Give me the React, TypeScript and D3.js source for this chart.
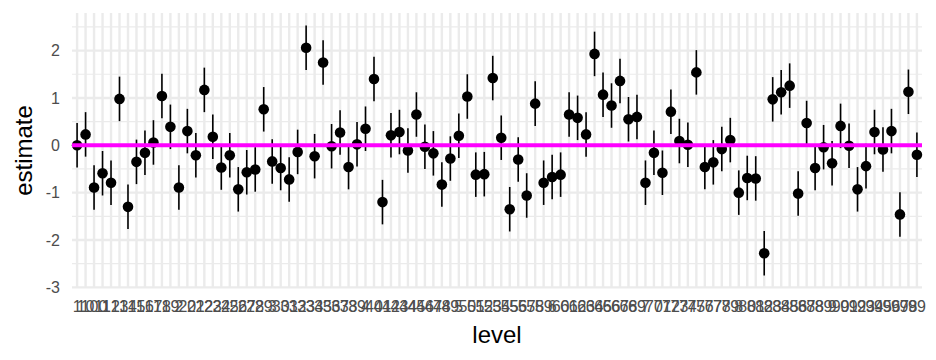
import React from 'react';
import * as d3 from 'd3';

// factor levels, sorted as strings (that is how the x axis lists them)
const levels = [
  '1', '10', '100', '11', '12', '13', '14', '15', '16', '17', '18', '19',
  '2', '20', '21', '22', '23', '24', '25', '26', '27', '28', '29',
  '3', '30', '31', '32', '33', '34', '35', '36', '37', '38', '39',
  '4', '40', '41', '42', '43', '44', '45', '46', '47', '48', '49',
  '5', '50', '51', '52', '53', '54', '55', '56', '57', '58', '59',
  '6', '60', '61', '62', '63', '64', '65', '66', '67', '68', '69',
  '7', '70', '71', '72', '73', '74', '75', '76', '77', '78', '79',
  '8', '80', '81', '82', '83', '84', '85', '86', '87', '88', '89',
  '9', '90', '91', '92', '93', '94', '95', '96', '97', '98', '99',
];

const estimates = [
  0.0, 0.23, -0.89, -0.59, -0.79, 0.98, -1.3, -0.35, -0.16, 0.06,
  1.04, 0.39, -0.89, 0.3, -0.21, 1.17, 0.18, -0.47, -0.21, -0.93,
  -0.57, -0.51, 0.76, -0.34, -0.48, -0.72, -0.14, 2.06, -0.23, 1.75,
  -0.02, 0.27, -0.46, 0.02, 0.35, 1.4, -1.2, 0.21, 0.28, -0.11,
  0.65, -0.03, -0.17, -0.83, -0.28, 0.2, 1.03, -0.62, -0.61, 1.42,
  0.16, -1.35, -0.3, -1.06, 0.88, -0.79, -0.67, -0.62, 0.65, 0.58,
  0.23, 1.93, 1.07, 0.84, 1.36, 0.55, 0.6, -0.79, -0.16, -0.58,
  0.71, 0.09, 0.01, 1.54, -0.46, -0.36, -0.08, 0.11, -1.0, -0.69,
  -0.7, -2.28, 0.97, 1.12, 1.26, -1.02, 0.47, -0.48, -0.04, -0.38,
  0.41, -0.01, -0.93, -0.44, 0.28, -0.09, 0.3, -1.46, 1.13, -0.2,
];

// half width of each interval (they all look the same)
const halfWidth = 0.47;

const yMajorTicks = [-3, -2, -1, 0, 1, 2];
const yMinorTicks = [-2.5, -1.5, -0.5, 0.5, 1.5, 2.5];
const refLine = 0;

const W = 936;
const H = 360;
const panel = { left: 72, right: 922, top: 13, bottom: 288 };
const font = '"Liberation Sans", Arial, Helvetica, sans-serif';
const gridColor = '#EBEBEB';
const textColor = '#4D4D4D';

export default function App() {
  const data = levels.map((level, i) => ({
    level,
    est: estimates[i],
    lo: estimates[i] - halfWidth,
    hi: estimates[i] + halfWidth,
  }));

  const x = d3.scalePoint<string>()
    .domain(levels)
    .range([panel.left, panel.right])
    .padding(0.6);

  const lo = d3.min(data, d => d.lo) as number;
  const hi = d3.max(data, d => d.hi) as number;
  const pad = (hi - lo) * 0.05;
  const y = d3.scaleLinear()
    .domain([lo - pad, hi + pad])
    .range([panel.bottom, panel.top]);

  const yVisible = (v: number) => v >= y.domain()[0] && v <= y.domain()[1];

  return (
    <div style={{ position: 'absolute', left: 0, top: 0 }}>
      <svg width={W} height={H} style={{ display: 'block', background: '#fff' }}>
        {/* minor grid */}
        {yMinorTicks.filter(yVisible).map(t => (
          <line key={'mi' + t} x1={panel.left} x2={panel.right} y1={y(t)} y2={y(t)}
            stroke={gridColor} strokeWidth={1.2} />
        ))}
        {/* major grid */}
        {yMajorTicks.filter(yVisible).map(t => (
          <line key={'ma' + t} x1={panel.left} x2={panel.right} y1={y(t)} y2={y(t)}
            stroke={gridColor} strokeWidth={2.4} />
        ))}
        {levels.map(l => (
          <line key={'v' + l} x1={x(l)} x2={x(l)} y1={panel.top} y2={panel.bottom}
            stroke={gridColor} strokeWidth={2.4} />
        ))}

        {/* point ranges */}
        {data.map(d => (
          <g key={'p' + d.level}>
            <line x1={x(d.level)} x2={x(d.level)} y1={y(d.lo)} y2={y(d.hi)}
              stroke="#000" strokeWidth={1.6} />
            <circle cx={x(d.level)} cy={y(d.est)} r={5.3} fill="#000" />
          </g>
        ))}

        {/* reference line */}
        <line x1={panel.left} x2={panel.right} y1={y(refLine)} y2={y(refLine)}
          stroke="#FF00FF" strokeWidth={4} />

        {/* y axis labels */}
        {yMajorTicks.filter(yVisible).map(t => (
          <text key={'yt' + t} x={60} y={y(t)} dy="0.36em" textAnchor="end"
            fontFamily={font} fontSize={16} fill={textColor}>
            {t < 0 ? '-' + Math.abs(t) : t}
          </text>
        ))}
        {/* x axis labels */}
        {levels.map(l => (
          <text key={'xt' + l} x={x(l)} y={312} textAnchor="middle"
            fontFamily={font} fontSize={16} fill={textColor}>
            {l}
          </text>
        ))}

        <text x={(panel.left + panel.right) / 2} y={343} textAnchor="middle"
          fontFamily={font} fontSize={24} fill="#000">level</text>
        <text transform={`translate(32,${(panel.top + panel.bottom) / 2}) rotate(-90)`}
          textAnchor="middle" fontFamily={font} fontSize={24} fill="#000">estimate</text>
      </svg>
    </div>
  );
}
